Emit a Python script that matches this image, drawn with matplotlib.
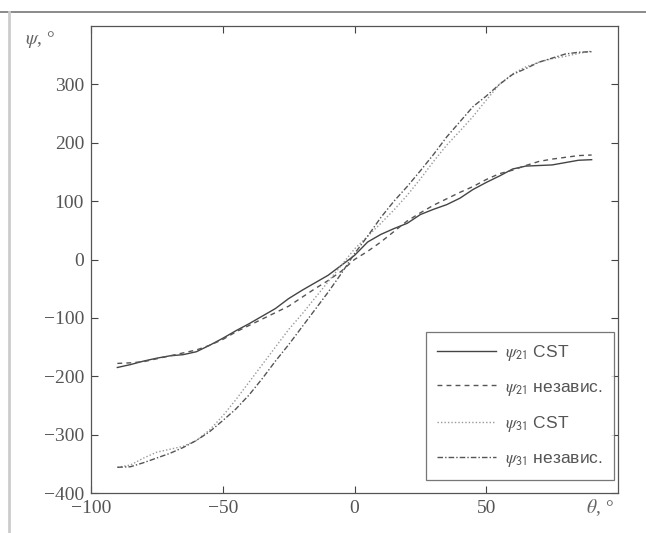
import matplotlib
matplotlib.use("Agg")
import matplotlib.pyplot as plt
from matplotlib.lines import Line2D

theta = [-90, -85, -80, -75, -70, -65, -60, -55, -50, -45, -40, -35, -30, -25, -20, -15,
         -10, -5, 0, 5, 10, 15, 20, 25, 30, 35, 40, 45, 50, 55, 60, 65, 70, 75, 80, 85, 90]

psi21_cst = [-185, -180, -174, -169, -165, -163, -158, -147, -135, -122, -110, -97, -84, -67,
             -53, -40, -27, -10, 7, 30, 43, 53, 62, 77, 86, 94, 105, 120, 132, 143, 155,
             160, 161, 162, 166, 170, 171]
psi21_ind = [-178, -177, -175, -170, -165, -160, -155, -147, -137, -124, -113, -102, -91, -80,
             -65, -50, -36, -20, 0, 14, 30, 48, 66, 80, 93, 104, 115, 125, 137, 147, 153,
             161, 168, 172, 175, 178, 179]
psi31_cst = [-356, -352, -340, -330, -325, -320, -310, -292, -268, -240, -210, -180, -150, -120,
             -94, -66, -38, -10, 18, 40, 62, 85, 110, 138, 168, 196, 220, 245, 273, 300, 318,
             330, 338, 344, 348, 353, 357]
psi31_ind = [-356, -355, -348, -340, -332, -322, -310, -295, -276, -256, -232, -204, -174, -146,
             -116, -86, -56, -24, 10, 40, 72, 100, 125, 152, 180, 210, 236, 262, 280, 300, 317,
             327, 338, 345, 352, 355, 356]

labels = [r"$\psi_{\mathsf{21}}$ CST", r"$\psi_{\mathsf{21}}$ независ.",
          r"$\psi_{\mathsf{31}}$ CST", r"$\psi_{\mathsf{31}}$ независ."]
xticks = [-100, -50, 0, 50]
yticks = [-400, -300, -200, -100, 0, 100, 200, 300]

plt.rcParams["mathtext.fontset"] = "stix"
plt.rcParams["font.family"] = ["Liberation Sans", "DejaVu Sans"]

fig = plt.figure(figsize=(6.46, 5.33), dpi=100)
ax = fig.add_axes([91/646, 40/533, 527/646, 467/533])

ax.plot(theta, psi21_cst, color="#444444", lw=1.0, ls="-")
ax.plot(theta, psi21_ind, color="#555555", lw=1.0, ls=(0, (3.5, 3)))
ax.plot(theta, psi31_cst, color="#999999", lw=1.0, ls=(0, (1, 1.5)))
ax.plot(theta, psi31_ind, color="#555555", lw=1.0, ls=(0, (4, 1.5, 1, 1.5)))

ax.set_xlim(-100, 100)
ax.set_ylim(-400, 400)
ax.set_xticks(xticks)
ax.set_yticks(yticks)
ax.tick_params(direction="in", top=True, right=True, length=5, width=0.8,
               labelsize=14, colors="#444444", labelcolor="#555555", pad=5)
for lab in ax.get_xticklabels() + ax.get_yticklabels():
    lab.set_fontfamily("Liberation Serif")
for sp in ax.spines.values():
    sp.set_color("#555555")
    sp.set_linewidth(0.9)

leg = ax.legend(labels, loc="lower right", bbox_to_anchor=(0.992, 0.028), fontsize=12.5,
                handlelength=3.4, labelspacing=0.95, borderpad=0.65, handletextpad=0.5,
                frameon=True, fancybox=False, borderaxespad=0.0)
leg.get_frame().set_edgecolor("#555555")
leg.get_frame().set_linewidth(0.9)
for t in leg.get_texts():
    t.set_color("#555555")

fig.text(40/646, 1 - 40/533, r"$\psi$, °", fontsize=14, color="#666666",
         family="Liberation Serif", ha="center", va="center")
fig.text(600/646, 1 - 508/533, r"$\theta$, °", fontsize=14, color="#666666",
         family="Liberation Serif", ha="center", va="center")

# scan border lines
fig.add_artist(Line2D([0, 1], [1 - 12/533, 1 - 12/533], transform=fig.transFigure,
                      color="#777777", lw=1.2))
fig.add_artist(Line2D([9/646, 9/646], [0, 1 - 12/533], transform=fig.transFigure,
                      color="#cccccc", lw=2))

fig.savefig("out.png", dpi=100)
